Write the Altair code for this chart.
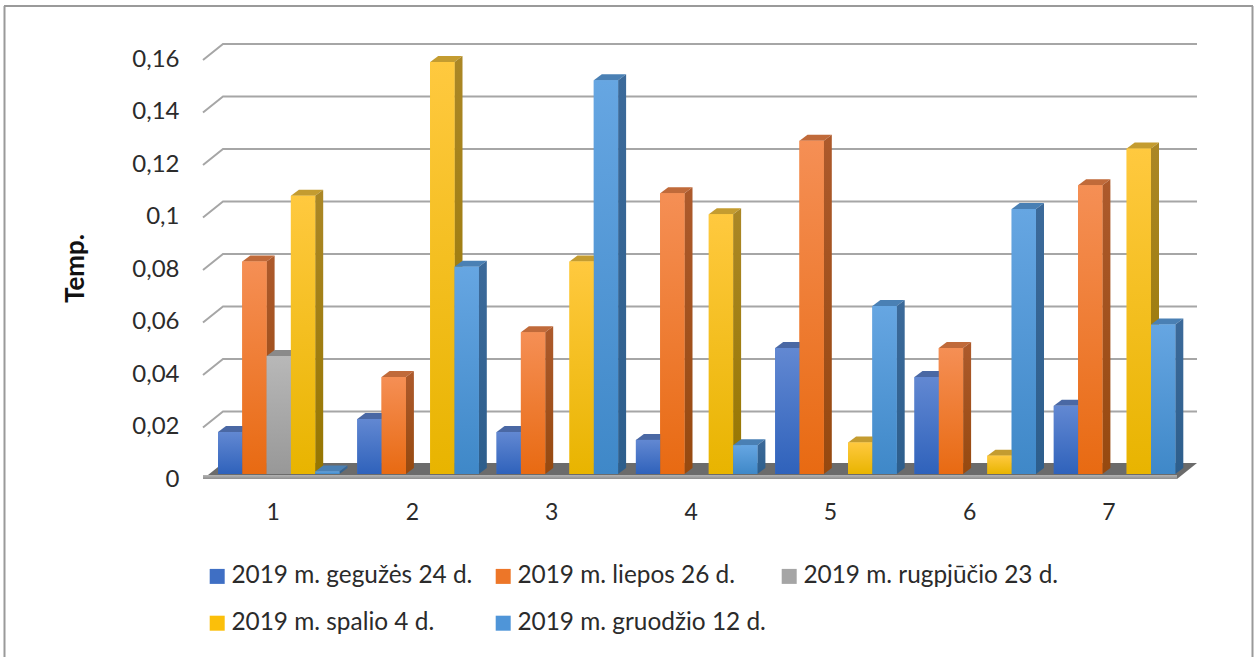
import altair as alt
import pandas as pd

categories = [1, 2, 3, 4, 5, 6, 7]
series_names = [
    "2019 m. gegužės 24 d.",
    "2019 m. liepos 26 d.",
    "2019 m. rugpjūčio 23 d.",
    "2019 m. spalio 4 d.",
    "2019 m. gruodžio 12 d.",
]
gegu = [0.016, 0.021, 0.016, 0.013, 0.048, 0.037, 0.026]
liepos = [0.081, 0.037, 0.054, 0.107, 0.127, 0.048, 0.110]
rugp = [0.045, None, None, None, None, None, None]
spalio = [0.106, 0.157, 0.081, 0.099, 0.012, 0.007, 0.124]
gruod = [0.001, 0.079, 0.150, 0.011, 0.064, 0.101, 0.057]
series_values = [gegu, liepos, rugp, spalio, gruod]
y_ticks = [0, 0.02, 0.04, 0.06, 0.08, 0.1, 0.12, 0.14, 0.16]

# Face colours per series: gradient top, gradient bottom, side, cap, legend swatch
front_top = ["#6288d2", "#f58f55", "#b8b8b8", "#ffc93f", "#66a6e2"]
front_bot = ["#2f62bb", "#e86a12", "#989898", "#e8b400", "#3f88c8"]
side_top = ["#3a5a98", "#ad5a2c", "#7c7c7c", "#ab8726", "#3c6a9a"]
side_bot = ["#264a88", "#96490f", "#6a6a6a", "#967600", "#2d5e8c"]
cap_col = ["#4a68a4", "#c06a3a", "#8a8a8a", "#c49c30", "#4a80b4"]
swatch = ["#3f6fc4", "#ed7628", "#a5a5a5", "#fbbf0a", "#4f95d8"]

FONT = "Lato"
TEXT = "#2b2b2b"
GRID = "#a6a6a6"

# Chart units: one category = 139.3 px, value 0.01 = 26.25 px
PX_X = 139.3
PX_Y = 2625.0
BAR_W = 24.3 / PX_X
FIRST_BAR = 0.6077
DEPTH_X = 8 / PX_X
DEPTH_Y = 6 / PX_Y
WALL_X = 20 / PX_X
WALL_BACK = 10 / PX_Y
WALL_FRONT = -6 / PX_Y
X_MIN, X_MAX = 0.5, 0.5 + 994 / PX_X
Y_MIN, Y_MAX = -8 / PX_Y, 430 / PX_Y

x_scale = alt.Scale(domain=[X_MIN, X_MAX], nice=False, zero=False)
y_scale = alt.Scale(domain=[Y_MIN, Y_MAX], nice=False, zero=False)

x_axis = alt.Axis(
    values=categories, format="d", title=None, domain=False, ticks=False, grid=False,
    labelFont=FONT, labelFontSize=23, labelColor=TEXT, labelPadding=19, labelAngle=0,
)
y_axis = alt.Axis(
    values=y_ticks, format=".2~f", labelExpr="replace(datum.label, '.', ',')",
    title="Temp.", titleFont=FONT, titleFontSize=26, titleFontWeight="bold", titleColor="#111111",
    titleX=-115, titleY=224, titleAngle=-90,
    domain=False, ticks=False, grid=False, labelFont=FONT, labelFontSize=24, labelColor=TEXT,
    labelPadding=24, labelOffset=5,
)


def X():
    return alt.X("x:Q", scale=x_scale, axis=x_axis)


def Y():
    return alt.Y("y:Q", scale=y_scale, axis=y_axis)


def vertical_gradient(top, bottom):
    return alt.LinearGradient(
        gradient="linear", x1=0, x2=0, y1=0, y2=1,
        stops=[alt.GradientStop(color=top, offset=0), alt.GradientStop(color=bottom, offset=1)],
    )


# Back wall gridlines with their slanted ends, and the floor slab
grid_rows = []
for v in y_ticks[1:]:
    grid_rows += [
        {"t": v, "x": X_MIN, "y": v + WALL_FRONT},
        {"t": v, "x": X_MIN + WALL_X, "y": v + WALL_BACK},
        {"t": v, "x": X_MAX, "y": v + WALL_BACK},
    ]
grid = alt.Chart(pd.DataFrame(grid_rows)).mark_line(color=GRID, strokeWidth=2).encode(
    x=X(), y=Y(), detail="t:N"
)

floor_front = -5 / PX_Y
floor_back = WALL_BACK + 1 / PX_Y
floor_top = alt.Chart(pd.DataFrame([
    {"x": X_MIN, "y": floor_front, "y2": floor_front},
    {"x": X_MIN + WALL_X, "y": floor_back, "y2": floor_front},
    {"x": X_MAX - WALL_X, "y": floor_back, "y2": floor_front},
    {"x": X_MAX, "y": floor_back, "y2": floor_back},
])).mark_area(color="#6b6b6b", orient="vertical").encode(x=X(), y=Y(), y2="y2:Q")
floor_strip = alt.Chart(pd.DataFrame([
    {"x": X_MIN, "x2": X_MAX - WALL_X, "y": -1 / PX_Y, "y2": floor_front},
])).mark_rect(color=vertical_gradient("#b4b4b4", "#8f8f8f")).encode(
    x=X(), x2="x2:Q", y=Y(), y2="y2:Q"
)

# One row per drawn bar
bars = []
for s, (name, values) in enumerate(zip(series_names, series_values)):
    for c, v in zip(categories, values):
        if v is not None:
            left = c - 1 + FIRST_BAR + s * BAR_W
            bars.append({"s": s, "name": name, "c": c, "v": v, "left": left, "right": left + BAR_W})
bars = pd.DataFrame(bars)

# Flat-coloured fronts carry the legend; shaded faces are drawn over them per series
legend_rects = alt.Chart(
    bars.rename(columns={"left": "x", "right": "x2", "v": "y"}).assign(y0=0.0)
).mark_rect().encode(
    x=X(), x2="x2:Q", y=Y(), y2="y0:Q",
    color=alt.Color(
        "name:N",
        sort=series_names,
        scale=alt.Scale(domain=series_names, range=swatch),
        legend=alt.Legend(
            title=None, orient="none", legendX=2, legendY=520, columns=3, gridAlign="all",
            direction="horizontal",
            symbolType="square", symbolSize=225, symbolStrokeWidth=0, symbolOpacity=1,
            labelFont=FONT, labelFontSize=24.4, labelColor=TEXT, labelLimit=400,
            labelOffset=2, columnPadding=4, rowPadding=22, padding=0,
        ),
    ),
)

layers = [grid, floor_top, floor_strip, legend_rects]
for s in range(len(series_names)):
    part = bars[bars["s"] == s]
    side_rows, cap_rows = [], []
    for _, b in part.iterrows():
        side_rows += [
            {"c": b.c, "x": b.right, "y": b.v, "y2": 0.0},
            {"c": b.c, "x": b.right + DEPTH_X, "y": b.v + DEPTH_Y, "y2": DEPTH_Y},
        ]
        cap_rows += [
            {"c": b.c, "x": b.left, "y": b.v, "y2": b.v},
            {"c": b.c, "x": b.left + DEPTH_X, "y": b.v + DEPTH_Y, "y2": b.v},
            {"c": b.c, "x": b.right, "y": b.v + DEPTH_Y, "y2": b.v},
            {"c": b.c, "x": b.right + DEPTH_X, "y": b.v + DEPTH_Y, "y2": b.v + DEPTH_Y},
        ]
    side = alt.Chart(pd.DataFrame(side_rows)).mark_area(
        color=vertical_gradient(side_top[s], side_bot[s]), orient="vertical"
    ).encode(x=X(), y=Y(), y2="y2:Q", detail="c:N")
    cap = alt.Chart(pd.DataFrame(cap_rows)).mark_area(
        color=cap_col[s], orient="vertical"
    ).encode(x=X(), y=Y(), y2="y2:Q", detail="c:N")
    front = alt.Chart(
        part.rename(columns={"left": "x", "right": "x2", "v": "y"}).assign(y0=0.0)
    ).mark_rect(color=vertical_gradient(front_top[s], front_bot[s])).encode(
        x=X(), x2="x2:Q", y=Y(), y2="y0:Q"
    )
    layers += [cap, side, front]

# Outer chart frame: left, top and right edges, open at the bottom
frame_color = "#9a9a9a"
frame = [
    alt.Chart(pd.DataFrame({"k": [0]})).mark_rule(color=frame_color, strokeWidth=2).encode(
        x=alt.value(-198.5), y=alt.value(-38), y2=alt.value(613)
    ),
    alt.Chart(pd.DataFrame({"k": [0]})).mark_rule(color=frame_color, strokeWidth=2).encode(
        x=alt.value(1049.5), y=alt.value(-38), y2=alt.value(613)
    ),
    alt.Chart(pd.DataFrame({"k": [0]})).mark_rule(color=frame_color, strokeWidth=2).encode(
        x=alt.value(-199), x2=alt.value(1050), y=alt.value(-38)
    ),
]

chart = alt.layer(*layers, *frame).properties(
    width=994, height=438,
    padding={"left": 203, "top": 44, "right": 62, "bottom": 175},
    autosize=alt.AutoSizeParams(type="none"),
    background="white",
).configure_view(strokeWidth=0)

chart.save("out.html", embed_options={"renderer": "svg", "actions": False})
